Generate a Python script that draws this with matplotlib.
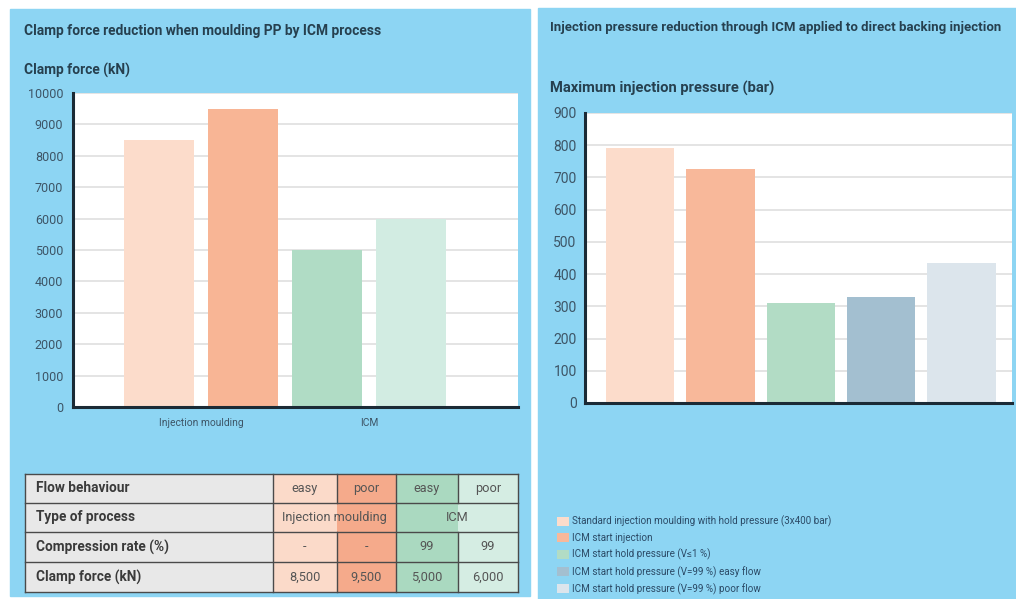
import numpy as np
import matplotlib
matplotlib.use('Agg')
import matplotlib.pyplot as plt
from matplotlib.patches import Rectangle

plt.rcParams['font.family'] = ['Roboto', 'DejaVu Sans']

# clamp force chart
clamp_groups = ['Injection moulding', 'ICM']
clamp_force = [8500, 9500, 5000, 6000]
clamp_colors = ['#fcdccb', '#f8b595', '#b0dcc5', '#d2ece2']

# table under clamp force chart
row_names = ['Flow behaviour', 'Type of process', 'Compression rate (%)', 'Clamp force (kN)']
flow = ['easy', 'poor', 'easy', 'poor']
process = ['Injection moulding', 'ICM']
compression = ['-', '-', '99', '99']
force_text = ['8,500', '9,500', '5,000', '6,000']
table_colors = ['#fbdac9', '#f5aa8b', '#aad9c0', '#d5ede3']

# injection pressure chart
pressure = [790, 725, 310, 330, 435]
pressure_colors = ['#fcdccb', '#f8b89a', '#b2dcc5', '#a3bfd0', '#dce5ec']
pressure_labels = ['Standard injection moulding with hold pressure (3x400 bar)',
                   'ICM start injection',
                   'ICM start hold pressure (V\u22641 %)',
                   'ICM start hold pressure (V=99 %) easy flow',
                   'ICM start hold pressure (V=99 %) poor flow']

W, H = 1016, 599
panel_blue = '#8dd5f3'
title_col = '#26404f'
tick_col = '#3d5566'
spine_col = '#1b2a35'


def px_box(x0, y0, x1, y1):
    return [x0 / W, 1 - y1 / H, (x1 - x0) / W, (y1 - y0) / H]


fig = plt.figure(figsize=(W / 100, H / 100), dpi=100)
fig.patch.set_facecolor('white')

# background layer in pixel coordinates
bg = fig.add_axes([0, 0, 1, 1], zorder=0)
bg.set_xlim(0, W)
bg.set_ylim(H, 0)
bg.axis('off')
bg.add_patch(Rectangle((10, 9), 520, 587, color=panel_blue))
bg.add_patch(Rectangle((538, 8), W - 538, H - 8, color=panel_blue))

bg.text(24, 31, 'Clamp force reduction when moulding PP by ICM process',
        fontsize=9.9, fontweight='bold', color=title_col, va='center')
bg.text(24, 70, 'Clamp force (kN)', fontsize=9.9, fontweight='bold',
        color=title_col, va='center')
bg.text(550, 28, 'Injection pressure reduction through ICM applied to direct backing injection',
        fontsize=9.5, fontweight='bold', color=title_col, va='center')
bg.text(550, 88, 'Maximum injection pressure (bar)', fontsize=10.6,
        fontweight='bold', color=title_col, va='center')


def style_axes(ax):
    ax.set_facecolor('white')
    for s in ['top', 'right']:
        ax.spines[s].set_visible(False)
    for s in ['left', 'bottom']:
        ax.spines[s].set_color(spine_col)
        ax.spines[s].set_linewidth(2.2)
    ax.yaxis.grid(True, color='#e4e4e4', linewidth=1.4)
    ax.set_axisbelow(True)
    ax.tick_params(length=0, colors=tick_col)


# left chart
ax1 = fig.add_axes(px_box(73, 93, 518, 407), zorder=1)
x1 = np.arange(len(clamp_force))
ax1.bar(x1, clamp_force, width=0.83, color=clamp_colors)
ax1.set_xlim(-1.02, 4.27)
ax1.set_ylim(0, 10000)
ax1.set_yticks(np.arange(0, 10001, 1000))
ax1.set_xticks([0.5, 2.5])
ax1.set_xticklabels(clamp_groups, fontsize=7.4, color='#2b4a66')
style_axes(ax1)
ax1.tick_params(axis='y', labelsize=9, pad=7)
ax1.tick_params(axis='x', pad=8)

# right chart
ax2 = fig.add_axes(px_box(585, 113, 1012, 403), zorder=1)
x2 = np.arange(len(pressure))
bars = ax2.bar(x2, pressure, width=0.85, color=pressure_colors)
ax2.set_xlim(-0.684, 4.628)
ax2.set_ylim(0, 900)
ax2.set_yticks(np.arange(0, 901, 100))
ax2.set_xticks([])
style_axes(ax2)
ax2.tick_params(axis='y', labelsize=10, pad=6)

fig.legend(bars, pressure_labels, loc='upper left',
           bbox_to_anchor=(548 / W, 1 - 507 / H), frameon=False,
           fontsize=7.1, handlelength=1.2, handleheight=1.0,
           handletextpad=0.3, labelspacing=0.58, labelcolor='#2b4a66')

# table
col_x = [25, 273, 337, 396, 458, 518]
row_y = [474, 503, 532, 562, 592]
edge = '#4a4a4a'
for r in range(4):
    y0, y1 = row_y[r], row_y[r + 1]
    bg.add_patch(Rectangle((col_x[0], y0), col_x[1] - col_x[0], y1 - y0,
                           facecolor='#e8e8e8', edgecolor='none'))
    bg.text(col_x[0] + 11, (y0 + y1) / 2, row_names[r], fontsize=9.8,
            fontweight='bold', color='#3a3a3a', va='center')
    for c in range(4):
        bg.add_patch(Rectangle((col_x[c + 1], y0), col_x[c + 2] - col_x[c + 1],
                               y1 - y0, facecolor=table_colors[c], edgecolor='none'))

cell_text = [flow, None, compression, force_text]
for r, vals in enumerate(cell_text):
    if vals is None:
        continue
    ym = (row_y[r] + row_y[r + 1]) / 2
    for c, v in enumerate(vals):
        xm = (col_x[c + 1] + col_x[c + 2]) / 2
        bg.text(xm, ym, v, fontsize=9.2, color='#555555', ha='center', va='center')

ym = (row_y[1] + row_y[2]) / 2
bg.text((col_x[1] + col_x[3]) / 2, ym, process[0], fontsize=9.2, color='#555555',
        ha='center', va='center')
bg.text((col_x[3] + col_x[5]) / 2, ym, process[1], fontsize=9.2, color='#555555',
        ha='center', va='center')

# grid lines of the table
for y in row_y:
    bg.plot([col_x[0], col_x[-1]], [y, y], color=edge, lw=1)
for c, x in enumerate(col_x):
    if c in (2, 4):
        # no divider inside the merged process cells
        bg.plot([x, x], [row_y[0], row_y[1]], color=edge, lw=1)
        bg.plot([x, x], [row_y[2], row_y[4]], color=edge, lw=1)
    else:
        bg.plot([x, x], [row_y[0], row_y[-1]], color=edge, lw=1)

fig.savefig('out.png', dpi=100, facecolor='white')
